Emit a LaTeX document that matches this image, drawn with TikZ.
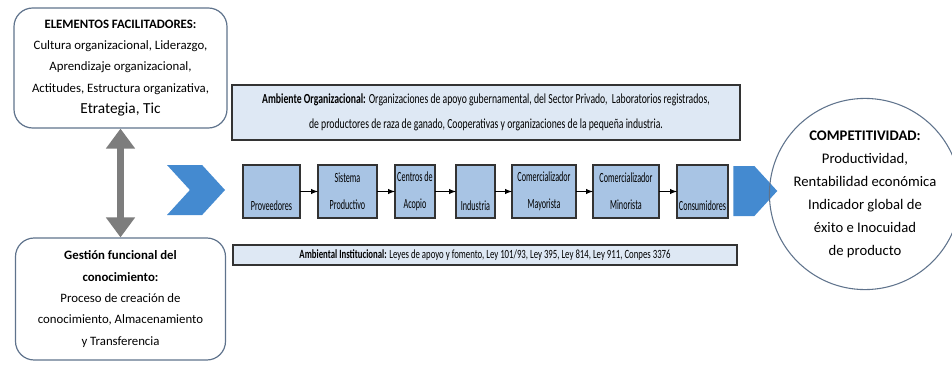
\documentclass[tikz,border=0pt]{standalone}
\usepackage{fontspec}
\setmainfont{Carlito}
\newfontfamily\narrowfont[FakeStretch=0.7]{Carlito}
\newfontfamily\procfont[FakeStretch=0.58]{Carlito}
\usetikzlibrary{shapes,shapes.arrows,arrows.meta,positioning,calc}
\definecolor{boxedge}{RGB}{95,115,140}
\definecolor{procblue}{RGB}{168,196,228}
\definecolor{ambblue}{RGB}{222,232,244}
\definecolor{chevblue}{RGB}{68,138,208}
\definecolor{dblgray}{RGB}{125,125,125}

\begin{document}
\begin{tikzpicture}[
    x=0.75pt,y=-0.75pt,>=latex,node distance=12pt,
    facil/.style={rectangle,rounded corners=14pt,draw=boxedge,line width=0.9pt,align=center,inner sep=1pt,font=\fontsize{9.6}{16}\selectfont},
    ambient/.style={rectangle,draw=black!80,line width=1pt,fill=ambblue,align=center,inner sep=1pt,font=\narrowfont\fontsize{10.4}{18.75}\selectfont},
    proc/.style={rectangle,draw=black!80,line width=0.9pt,fill=procblue,align=center,minimum height=39.75pt,inner sep=0pt,outer sep=0pt,font=\procfont\fontsize{10.5}{12}\selectfont},
    chev/.style={signal,signal to=east,fill=chevblue,draw=none,minimum height=37.5pt,inner sep=0pt,signal pointer angle=95},
    meta/.style={circle,draw=boxedge,line width=0.8pt,minimum size=136.5pt,align=center,inner sep=0pt,font=\fontsize{11}{17.25}\selectfont}]
    \useasboundingbox (0,0) rectangle (952,364);

    % left side
    \node[facil,minimum width=159.75pt,minimum height=90pt] (elem) at (120.5,68)
      {\textbf{ELEMENTOS FACILITADORES:}\\Cultura organizacional, Liderazgo,\\Aprendizaje organizacional,\\Actitudes, Estructura organizativa,\\{\fontsize{11.5}{16}\selectfont Etrategia, Tic}};
    \node[facil,minimum width=157.5pt,minimum height=91.5pt] (gest) at (120.5,299)
      {\textbf{Gestión funcional del}\\\textbf{conocimiento:}\\Proceso de creación de\\conocimiento, Almacenamiento\\y Transferencia};
    \draw[{Triangle[width=21pt,length=15pt]}-{Triangle[width=21pt,length=15pt]},line width=5.5pt,dblgray] (elem.south) -- (gest.north);

    % environments
    \node[ambient,minimum width=381pt,minimum height=41.25pt] (amb) at (486,112.5)
      {\textbf{Ambiente Organizacional:} Organizaciones de apoyo gubernamental, del Sector Privado,\ \ Laboratorios registrados,\\de productores de raza de ganado, Cooperativas y organizaciones de la pequeña industria.};
    \node[ambient,minimum width=378pt,minimum height=15pt,font=\narrowfont\fontsize{9.4}{12}\selectfont] (inst) at (485,255)
      {\textbf{Ambiental Institucional:} Leyes de apoyo y fomento, Ley 101/93, Ley 395, Ley 814, Ley 911, Conpes 3376};

    % chain
    \node[chev,signal from=west,minimum width=43.5pt] (chevL) at (196,190) {};
    \node[proc,minimum width=42.75pt] (P1) at (271.5,191.5) {\strut\\[8pt]Proveedores};
    \node[proc,minimum width=44.25pt,right=13.5pt of P1] (P2) {Sistema\\[8pt]Productivo};
    \node[proc,minimum width=30pt,right=13.5pt of P2] (P3) {Centros de\\[8pt]Acopio};
    \node[proc,minimum width=29.25pt,right=15.75pt of P3] (P4) {\strut\\[8pt]Industria};
    \node[proc,minimum width=48pt,right=12.75pt of P4] (P5) {Comercializador\\[8pt]Mayorista};
    \node[proc,minimum width=49.5pt,right=12.75pt of P5] (P6) {Comercializador\\[8pt]Minorista};
    \node[proc,minimum width=38.25pt,right=13.5pt of P6] (P7) {\strut\\[8pt]Consumidores};
    \node[chev,minimum width=33pt,anchor=west] (chevR) at (733,191) {};

    \foreach \a/\b in {P1/P2,P2/P3,P3/P4,P4/P5,P5/P6,P6/P7}
      \draw[->,thick] (\a) -- (\b);

    % result
    \node[meta] (comp) at (865,194)
      {\textbf{COMPETITIVIDAD:}\\Productividad,\\Rentabilidad económica\\Indicador global de\\éxito e Inocuidad\\de producto};
  \end{tikzpicture}
\end{document}
